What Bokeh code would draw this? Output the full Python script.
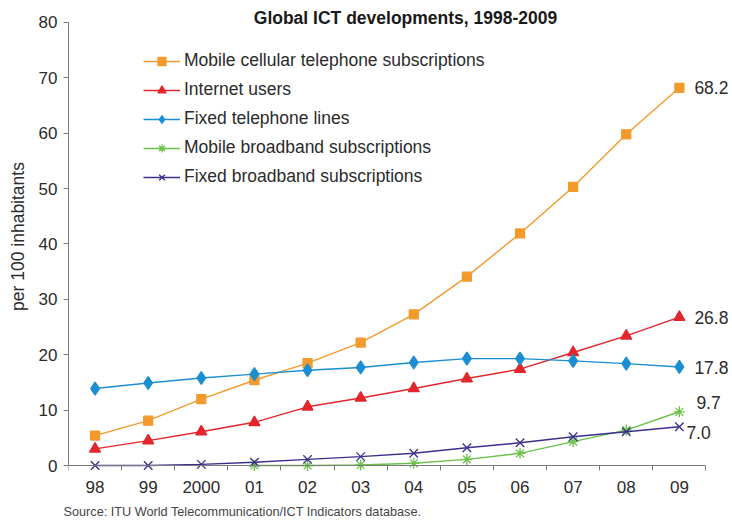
from bokeh.plotting import figure
from bokeh.models import Range1d, FixedTicker, Legend, LegendItem, Label, LinearAxis, Title
from bokeh.embed import file_html
from bokeh.resources import INLINE

# ---- data -------------------------------------------------------------
years = ["98", "99", "2000", "01", "02", "03", "04", "05", "06", "07", "08", "09"]
y_ticks = [0, 10, 20, 30, 40, 50, 60, 70, 80]

mobile_cellular = [5.4, 8.1, 12.0, 15.4, 18.5, 22.2, 27.3, 34.1, 41.9, 50.3, 59.8, 68.2]
internet_users = [3.0, 4.5, 6.1, 7.8, 10.6, 12.2, 13.9, 15.7, 17.4, 20.4, 23.4, 26.8]
fixed_telephone = [13.9, 14.9, 15.8, 16.5, 17.2, 17.7, 18.6, 19.3, 19.3, 18.9, 18.4, 17.8]
mobile_broadband_start = 3  # series begins in 2001
mobile_broadband = [0.0, 0.0, 0.1, 0.4, 1.1, 2.2, 4.3, 6.4, 9.7]
fixed_broadband = [0.0, 0.0, 0.2, 0.6, 1.1, 1.6, 2.2, 3.2, 4.1, 5.2, 6.1, 7.0]

series_names = [
    "Mobile cellular telephone subscriptions",
    "Internet users",
    "Fixed telephone lines",
    "Mobile broadband subscriptions",
    "Fixed broadband subscriptions",
]
series_values = [mobile_cellular, internet_users, fixed_telephone, mobile_broadband, fixed_broadband]
series_start = [0, 0, 0, mobile_broadband_start, 0]

title_text = "Global ICT developments, 1998-2009"
y_label_text = "per 100 inhabitants"
source_text = "Source: ITU World Telecommunication/ICT Indicators database."

# ---- styles -----------------------------------------------------------
colors = ["#F39A2C", "#E2262C", "#1A8ED2", "#6CC24A", "#3A2F8C"]
markers = ["square", "triangle", "diamond", "asterisk", "x"]
msizes = [9, 11, 13, 11, 12]
end_x_off = [15, 15, 15, 17, 7]
end_y_off = [0, 0, -1, 9, -6]
FONT = "Liberation Sans"
TXT = "#2b2b2b"
AX = "#7a7a7a"

p = figure(width=732, height=529, output_backend="svg", toolbar_location=None,
           x_range=Range1d(-0.5, 12.0), y_range=Range1d(-1.264, 83.97),
           min_border_left=68, min_border_right=0, min_border_top=0, min_border_bottom=57)
p.outline_line_color = None
p.xgrid.visible = False
p.ygrid.visible = False

# x axis (labels only) at the frame bottom
xa = p.xaxis[0]
xa.ticker = FixedTicker(ticks=list(range(len(years))), minor_ticks=[])
xa.major_label_overrides = {i: y for i, y in enumerate(years)}
xa.axis_line_color = None
xa.major_tick_line_color = None
xa.minor_tick_line_color = None
xa.major_tick_out = 0
xa.major_tick_in = 0
xa.major_label_standoff = 8
xa.major_label_text_font = FONT
xa.major_label_text_font_size = "17px"
xa.major_label_text_color = TXT

# x axis line + boundary ticks at y = 0
xz = LinearAxis(fixed_location=0, bounds=(-0.5, len(years) - 0.5),
                ticker=FixedTicker(ticks=[], minor_ticks=[i - 0.5 for i in range(len(years) + 1)]),
                axis_line_color=AX, minor_tick_line_color=AX, major_tick_line_color=None,
                minor_tick_out=5, minor_tick_in=0, major_tick_out=0, major_tick_in=0)
p.add_layout(xz, "below")

# y axis
ya = p.yaxis[0]
ya.bounds = (0, 80)
ya.ticker = FixedTicker(ticks=y_ticks, minor_ticks=[])
ya.major_tick_out = 5
ya.major_tick_in = 0
ya.minor_tick_out = 0
ya.major_label_standoff = 6
ya.major_label_text_font = FONT
ya.major_label_text_font_size = "17px"
ya.major_label_text_color = TXT
ya.axis_line_color = AX
ya.major_tick_line_color = AX
ya.axis_label = y_label_text
ya.axis_label_standoff = 8
ya.axis_label_text_font = FONT
ya.axis_label_text_font_size = "17.5px"
ya.axis_label_text_font_style = "normal"
ya.axis_label_text_color = TXT

# series
items = []
for name, vals, start, c, m, s in zip(series_names, series_values, series_start, colors, markers, msizes):
    xs = list(range(start, start + len(vals)))
    r1 = p.line(xs, vals, line_color=c, line_width=1.4)
    r2 = p.scatter(xs, vals, marker=m, size=s, fill_color=c, line_color=c, line_width=1.3)
    items.append(LegendItem(label=name, renderers=[r1, r2]))

leg = Legend(items=items, location=(75, 285), glyph_width=37, glyph_height=20,
             label_height=20, spacing=8, padding=0, margin=0, label_standoff=4,
             border_line_color=None, background_fill_alpha=0,
             label_text_font=FONT, label_text_font_size="17.5px", label_text_color=TXT)
p.add_layout(leg)

# end-value labels
for vals, start, xo, yo in zip(series_values, series_start, end_x_off, end_y_off):
    xi = start + len(vals) - 1
    p.add_layout(Label(x=xi, y=vals[-1], text="%.1f" % vals[-1], x_offset=xo, y_offset=yo,
                       text_font=FONT, text_font_size="17.5px", text_color=TXT,
                       text_baseline="middle", text_align="left"))

# title
p.add_layout(Label(x=5.844, y=80.9, text=title_text, text_font=FONT, text_font_size="17.5px",
                   text_font_style="bold", text_color="#1a1a1a", text_align="center",
                   text_baseline="middle"))

# source note
p.add_layout(Title(text=source_text, align="left", offset=-5, standoff=14,
                   text_font=FONT, text_font_size="12.7px", text_font_style="normal",
                   text_color="#444444"), "below")

open("out.html", "w").write(file_html(p, INLINE))
